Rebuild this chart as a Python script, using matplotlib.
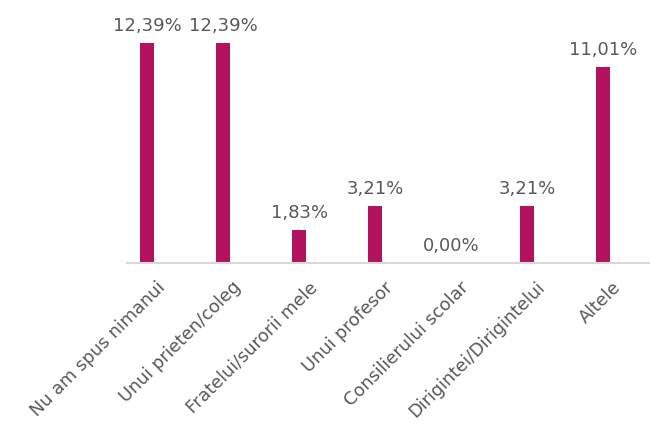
import matplotlib.pyplot as plt
from matplotlib.transforms import ScaledTranslation

categories = ['Nu am spus nimanui', 'Unui prieten/coleg', 'Fratelui/surorii mele',
              'Unui profesor', 'Consilierului scolar', 'Dirigintei/Dirigintelui', 'Altele']
values = [12.39, 12.39, 1.83, 3.21, 0.00, 3.21, 11.01]

bar_color = '#B3125F'
text_color = '#595959'

fig = plt.figure(figsize=(6.5, 4.26), dpi=100)
ax = fig.add_axes([0.195, 0.383, 0.805, 0.594])

x = list(range(len(categories)))
ax.bar(x, values, width=0.19, color=bar_color)

for xi, v in zip(x, values):
    ax.text(xi, v + 0.45, f'{v:.2f}%'.replace('.', ','), ha='center', va='bottom',
            fontsize=13, color=text_color)

ax.set_xlim(-0.27, 6.62)
ax.set_ylim(0, 14.25)
ax.set_xticks(x)
ax.set_xticklabels(categories, rotation=45, ha='right', rotation_mode='anchor',
                   fontsize=12.8, color=text_color)
ax.tick_params(axis='x', length=0, pad=11)
# labels sit a little right of the bars in the original
shift = ScaledTranslation(9 / 100, 0, fig.dpi_scale_trans)
for lbl in ax.get_xticklabels():
    lbl.set_transform(lbl.get_transform() + shift)
ax.set_yticks([])
for side in ['top', 'right', 'left']:
    ax.spines[side].set_visible(False)
ax.spines['bottom'].set_color('#D9D9D9')
ax.spines['bottom'].set_linewidth(1.5)

fig.savefig('out.png', dpi=100)
